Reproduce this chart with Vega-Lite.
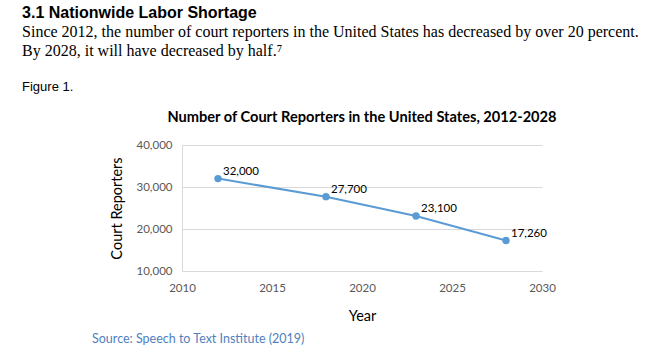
{
  "$schema": "https://vega.github.io/schema/vega-lite/v6.json",
  "padding": {"left": 22, "top": 4, "right": 0, "bottom": 0},
  "background": "white",
  "title": {
    "text": "3.1 Nationwide Labor Shortage",
    "subtitle": ["Since 2012, the number of court reporters in the United States has decreased by over 20 percent.", "By 2028, it will have decreased by half.⁷"],
    "anchor": "start",
    "font": "Liberation Sans",
    "fontSize": 16,
    "fontWeight": "bold",
    "color": "#000000",
    "subtitleFont": "Liberation Serif",
    "subtitleFontSize": 16,
    "subtitleColor": "#000000",
    "subtitleLineHeight": 19.5,
    "subtitlePadding": 3,
    "offset": 22
  },
  "vconcat": [
    {
      "title": {
        "text": "Figure 1.",
        "anchor": "start",
        "font": "Liberation Sans",
        "fontSize": 13,
        "fontWeight": "normal",
        "color": "#000000",
        "dx": -70,
        "offset": 16
      },
      "vconcat": [
        {
          "title": {
            "text": "Source: Speech to Text Institute (2019)",
            "orient": "bottom",
            "anchor": "start",
            "font": "Lato",
            "fontSize": 12.5,
            "fontWeight": "normal",
            "color": "#4F81BD",
            "dx": -17,
            "offset": 10
          },
          "vconcat": [
            {
              "width": 360,
              "height": 126,
              "title": {
                "text": "Number of Court Reporters in the United States, 2012-2028",
                "anchor": "middle",
                "font": "Lato",
                "fontSize": 14.6,
                "fontWeight": "bold",
                "color": "#000000",
                "offset": 14
              },
              "data": {
                "values": [
                  {"year": 2012, "reporters": 32000},
                  {"year": 2018, "reporters": 27700},
                  {"year": 2023, "reporters": 23100},
                  {"year": 2028, "reporters": 17260}
                ]
              },
              "encoding": {
                "x": {
                  "field": "year",
                  "type": "quantitative",
                  "scale": {"domain": [2010, 2030], "nice": false, "zero": false},
                  "axis": {
                    "title": "Year",
                    "values": [2010, 2015, 2020, 2025, 2030],
                    "format": "d",
                    "grid": false,
                    "domain": false,
                    "ticks": false,
                    "labelFlush": false,
                    "labelFont": "Lato",
                    "labelFontSize": 11.5,
                    "labelColor": "#595959",
                    "labelPadding": 11,
                    "titleFont": "Lato",
                    "titleFontSize": 14.5,
                    "titleFontWeight": "normal",
                    "titleColor": "#000000",
                    "titlePadding": 16
                  }
                },
                "y": {
                  "field": "reporters",
                  "type": "quantitative",
                  "scale": {"domain": [10000, 40000], "nice": false, "zero": false},
                  "axis": {
                    "title": "Court Reporters",
                    "values": [10000, 20000, 30000, 40000],
                    "format": ",d",
                    "grid": true,
                    "gridColor": "#d9d9d9",
                    "domain": true,
                    "domainColor": "#d9d9d9",
                    "ticks": false,
                    "labelFont": "Lato",
                    "labelFontSize": 11.5,
                    "labelColor": "#595959",
                    "labelPadding": 10,
                    "titleFont": "Lato",
                    "titleFontSize": 14.5,
                    "titleFontWeight": "normal",
                    "titleColor": "#000000",
                    "titlePadding": 12
                  }
                }
              },
              "layer": [
                {"mark": {"type": "line", "color": "#5B9BD5", "strokeWidth": 2}},
                {"mark": {"type": "point", "filled": true, "color": "#5B9BD5", "size": 55, "opacity": 1}},
                {
                  "mark": {"type": "text", "align": "left", "baseline": "alphabetic", "dx": 5, "dy": -4, "font": "Lato", "fontSize": 11.5, "color": "#000000"},
                  "encoding": {"text": {"field": "reporters", "type": "quantitative", "format": ","}}
                }
              ]
            }
          ]
        }
      ]
    }
  ],
  "config": {
    "view": {"stroke": null},
    "concat": {"spacing": 0}
  }
}
